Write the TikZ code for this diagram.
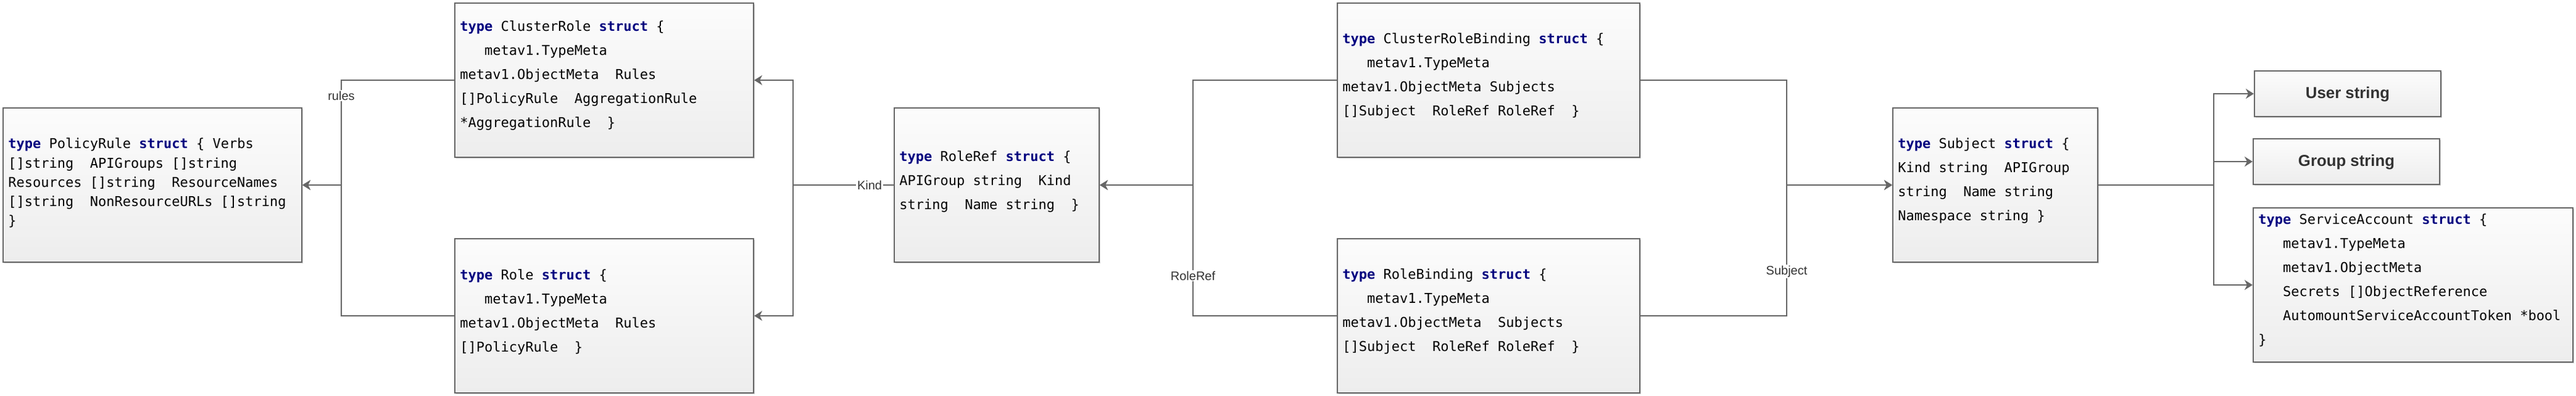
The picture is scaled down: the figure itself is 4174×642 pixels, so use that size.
\documentclass[tikz,border=0pt]{standalone}
\usepackage{fontspec}
\setmainfont{Liberation Sans}
\setsansfont{Liberation Sans}
\setmonofont{DejaVu Sans Mono}
\usetikzlibrary{arrows.meta,shadows,fit,calc}
\definecolor{lc}{HTML}{666666}
\definecolor{kwc}{HTML}{000080}
\definecolor{boxtop}{HTML}{FCFCFC}
\definecolor{boxbot}{HTML}{EDEDED}
\definecolor{lblc}{HTML}{333333}
\newcommand{\kw}[1]{\textcolor{kwc}{\bfseries #1}}
\newcommand{\codeblk}[2]{\vtop{\baselineskip=#1\relax\lineskiplimit=-100pt\lineskip=0pt\relax #2}}
\newcommand{\cln}[1]{\hbox{#1}}
\tikzset{
  box/.style={draw=lc, line width=1pt, top color=boxtop, bottom color=boxbot, inner sep=0pt,
    drop shadow={shadow xshift=1.2pt, shadow yshift=-1.2pt, opacity=0.18, fill=black}},
  code/.style={inner sep=0pt, anchor=base west, font=\fontsize{11pt}{19.5pt}\selectfont\ttfamily, text=black},
  edge/.style={draw=lc, line width=1pt, -{Stealth[length=6.5pt,width=8pt,inset=2pt]}},
  lbl/.style={fill=white, inner sep=1pt, text=lblc, font=\fontsize{10pt}{12pt}\selectfont\sffamily},
  plain/.style={inner sep=0pt, anchor=center, font=\fontsize{12.9pt}{15pt}\selectfont\sffamily\bfseries, text=lblc}
}
\begin{document}
\begin{tikzpicture}[x=0.5pt, y=-0.5pt]
\useasboundingbox (0,0) rectangle (4174,642);
\fill[white] (0,0) rectangle (4174,642);

% boxes
\node[box, fit={(5,175) (489,425)}] (pr) {};
\node[box, fit={(737,5) (1221,255)}] (cr) {};
\node[box, fit={(737,387) (1221,637)}] (r) {};
\node[box, fit={(1449,175) (1781,425)}] (rr) {};
\node[box, fit={(2167,5) (2657,255)}] (crb) {};
\node[box, fit={(2167,387) (2657,637)}] (rb) {};
\node[box, fit={(3067,175) (3399,425)}] (s) {};
\node[box, fit={(3653,115) (3955,189)}] (u) {};
\node[box, fit={(3651,225) (3953,299)}] (g) {};
\node[box, fit={(3651,337) (4169,587)}] (sa) {};

% junctions
\coordinate (jr) at (553,300);
\coordinate (jk) at (1285,300);
\coordinate (jb) at (1933,300);
\coordinate (js) at (2895,300);
\coordinate (ju) at (3587,300);

% connectors
\draw[edge] (cr.west) -| (jr) -- (pr.east);
\draw[edge] (r.west) -| (jr) -- (pr.east);
\draw[edge] (rr.west) -- (jk) |- (cr.east);
\draw[edge] (rr.west) -- (jk) |- (r.east);
\draw[edge] (crb.west) -| (jb) -- (rr.east);
\draw[edge] (rb.west) -| (jb) -- (rr.east);
\draw[edge] (crb.east) -| (js) -- (s.west);
\draw[edge] (rb.east) -| (js) -- (s.west);
\draw[edge] (s.east) -- (ju) |- (u.west);
\draw[edge] (s.east) -- (ju) |- (g.west);
\draw[edge] (s.east) -- (ju) |- (sa.west);

% connector labels
\node[lbl] (lrules) at (553,155) {rules};
\node[lbl] (lkind) at (1409,300) {Kind};
\node[lbl] (lroleref) at (1933,447) {RoleRef};
\node[lbl] (lsubject) at (2895,440) {Subject};

% plain texts
\node[plain] (uT) at ($(u.center)+(0,1)$) {User string};
\node[plain] (gT) at ($(g.center)+(0,1)$) {Group string};

% code texts
\node[code] (prT) at ($(pr.north west)+(9,66.7)$) {\codeblk{15.65pt}{%
  \cln{\kw{type} PolicyRule \kw{struct} \{ Verbs}%
  \cln{[]string~~APIGroups []string}%
  \cln{Resources []string~~ResourceNames}%
  \cln{[]string~~NonResourceURLs []string}%
  \cln{\}}}};
\node[code] (crT) at ($(cr.north west)+(9,47)$) {\codeblk{19.5pt}{%
  \cln{\kw{type} ClusterRole \kw{struct} \{}%
  \cln{~~~metav1.TypeMeta}%
  \cln{metav1.ObjectMeta~~Rules}%
  \cln{[]PolicyRule~~AggregationRule}%
  \cln{*AggregationRule~~\}}}};
\node[code] (rT) at ($(r.north west)+(9,67)$) {\codeblk{19.5pt}{%
  \cln{\kw{type} Role \kw{struct} \{}%
  \cln{~~~metav1.TypeMeta}%
  \cln{metav1.ObjectMeta~~Rules}%
  \cln{[]PolicyRule~~\}}}};
\node[code] (rrT) at ($(rr.north west)+(9,87)$) {\codeblk{19.5pt}{%
  \cln{\kw{type} RoleRef \kw{struct} \{}%
  \cln{APIGroup string~~Kind}%
  \cln{string~~Name string~~\}}}};
\node[code] (crbT) at ($(crb.north west)+(9,66.7)$) {\codeblk{19.5pt}{%
  \cln{\kw{type} ClusterRoleBinding \kw{struct} \{}%
  \cln{~~~metav1.TypeMeta}%
  \cln{metav1.ObjectMeta Subjects}%
  \cln{[]Subject~~RoleRef RoleRef~~\}}}};
\node[code] (rbT) at ($(rb.north west)+(9,66.7)$) {\codeblk{19.5pt}{%
  \cln{\kw{type} RoleBinding \kw{struct} \{}%
  \cln{~~~metav1.TypeMeta}%
  \cln{metav1.ObjectMeta~~Subjects}%
  \cln{[]Subject~~RoleRef RoleRef~~\}}}};
\node[code] (sT) at ($(s.north west)+(9,66.7)$) {\codeblk{19.5pt}{%
  \cln{\kw{type} Subject \kw{struct} \{}%
  \cln{Kind string~~APIGroup}%
  \cln{string~~Name string}%
  \cln{Namespace string \}}}};
\node[code] (saT) at ($(sa.north west)+(9,27)$) {\codeblk{19.5pt}{%
  \cln{\kw{type} ServiceAccount \kw{struct} \{}%
  \cln{~~~metav1.TypeMeta}%
  \cln{~~~metav1.ObjectMeta}%
  \cln{~~~Secrets []ObjectReference}%
  \cln{~~~AutomountServiceAccountToken *bool}%
  \cln{\}}}};
\end{tikzpicture}
\end{document}
